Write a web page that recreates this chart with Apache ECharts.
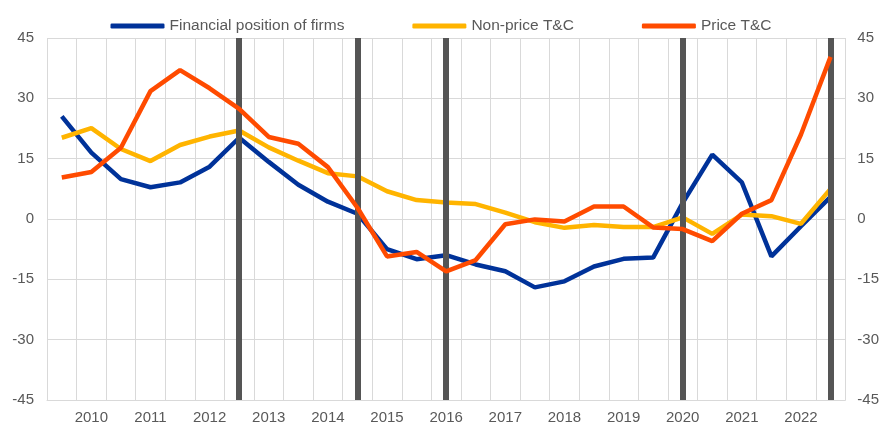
<!DOCTYPE html>
<html>
<head>
<meta charset="utf-8">
<script src="https://cdn.jsdelivr.net/npm/echarts@6/dist/echarts.min.js"></script>
<style>
  html, body { margin: 0; padding: 0; background: #fff; }
  #chart { width: 882px; height: 428px; }
</style>
</head>
<body>
<div id="chart"></div>
<script>
// 半年数据: 2009 H2 ~ 2022 H2
const categories = [
    '2009 H2',
    '2010 H1', '2010 H2', '2011 H1', '2011 H2', '2012 H1', '2012 H2',
    '2013 H1', '2013 H2', '2014 H1', '2014 H2', '2015 H1', '2015 H2',
    '2016 H1', '2016 H2', '2017 H1', '2017 H2', '2018 H1', '2018 H2',
    '2019 H1', '2019 H2', '2020 H1', '2020 H2', '2021 H1', '2021 H2',
    '2022 H1', '2022 H2'
];
const financialPosition = [25.5, 16.5, 9.9, 7.9, 9.1, 13, 20.2, 14.2, 8.5, 4.3, 1.3, -7.5, -10, -9, -11.3, -13, -17, -15.5, -11.8, -9.9, -9.6, 4, 16, 9.1, -9.3, -1.8, 5.5];
const nonPriceTC = [20.2, 22.6, 17.4, 14.4, 18.4, 20.5, 22, 17.8, 14.5, 11.4, 10.6, 6.9, 4.7, 4.1, 3.7, 1.6, -0.8, -2.2, -1.5, -2, -2, 0.4, -3.7, 1.1, 0.7, -1.2, 7.5];
const priceTC = [10.3, 11.7, 17.7, 31.8, 37, 32.5, 27.4, 20.4, 18.7, 12.9, 2.8, -9.3, -8.2, -13, -10.2, -1.3, -0.1, -0.6, 3.1, 3.1, -2.1, -2.5, -5.5, 1.3, 4.7, 21, 40.3];
// 竖线位置
const markerPeriods = ['2012 H2', '2014 H2', '2016 H1', '2020 H1', '2022 H2'];
const yTicks = { min: -45, max: 45, interval: 15 };

let myChart = echarts.init(document.getElementById('chart'));
const textColor = '#595959';
const gridColor = '#d9d9d9';
const font = 'Arial, "Liberation Sans", sans-serif';

let option = {
    animation: false,
    textStyle: { fontFamily: font },
    legend: {
        top: 13,
        left: 'center',
        itemGap: 68,
        itemWidth: 54,
        itemHeight: 5,
        icon: 'roundRect',
        textStyle: { color: textColor, fontSize: 15.5, fontFamily: font },
        data: ['Financial position of firms', 'Non-price T&C', 'Price T&C']
    },
    grid: {
        left: 47,
        right: 36,
        top: 38,
        bottom: 28
    },
    xAxis: {
        type: 'category',
        data: categories,
        boundaryGap: true,
        axisTick: { show: false },
        axisLine: { onZero: false, lineStyle: { color: gridColor, width: 1 } },
        splitLine: { show: true, interval: 0, lineStyle: { color: gridColor, width: 1 } },
        axisLabel: {
            interval: 0,
            color: textColor,
            fontSize: 15,
            margin: 10,
            formatter: function (v) {
                // 只在上半年显示年份
                return v.indexOf('H1') > -1 ? v.slice(0, 4) : '';
            }
        }
    },
    yAxis: [{
        type: 'value',
        min: yTicks.min,
        max: yTicks.max,
        interval: yTicks.interval,
        axisLine: { show: false },
        axisTick: { show: false },
        axisLabel: { color: textColor, fontSize: 15, margin: 13 },
        splitLine: { lineStyle: { color: gridColor, width: 1 } }
    }, {
        type: 'value',
        position: 'right',
        min: yTicks.min,
        max: yTicks.max,
        interval: yTicks.interval,
        axisLine: { show: false },
        axisTick: { show: false },
        axisLabel: { color: textColor, fontSize: 15, margin: 12 },
        splitLine: { show: false }
    }],
    series: [
        {
            // 竖线
            name: 'markers',
            type: 'line',
            data: [],
            z: 1,
            silent: true,
            markLine: {
                silent: true,
                symbol: ['none', 'none'],
                label: { show: false },
                lineStyle: { color: '#555555', width: 6, type: 'solid' },
                data: markerPeriods.map(function (p) { return { xAxis: p }; })
            }
        },
        {
            name: 'Financial position of firms',
            type: 'line',
            data: financialPosition,
            symbol: 'none',
            z: 3,
            color: '#003299',
            lineStyle: { width: 4.5, color: '#003299' }
        },
        {
            name: 'Non-price T&C',
            type: 'line',
            data: nonPriceTC,
            symbol: 'none',
            z: 4,
            color: '#FFB400',
            lineStyle: { width: 4.5, color: '#FFB400' }
        },
        {
            name: 'Price T&C',
            type: 'line',
            data: priceTC,
            symbol: 'none',
            z: 5,
            color: '#FF4B00',
            lineStyle: { width: 4.5, color: '#FF4B00' }
        }
    ]
};
myChart.setOption(option);
</script>
</body>
</html>
